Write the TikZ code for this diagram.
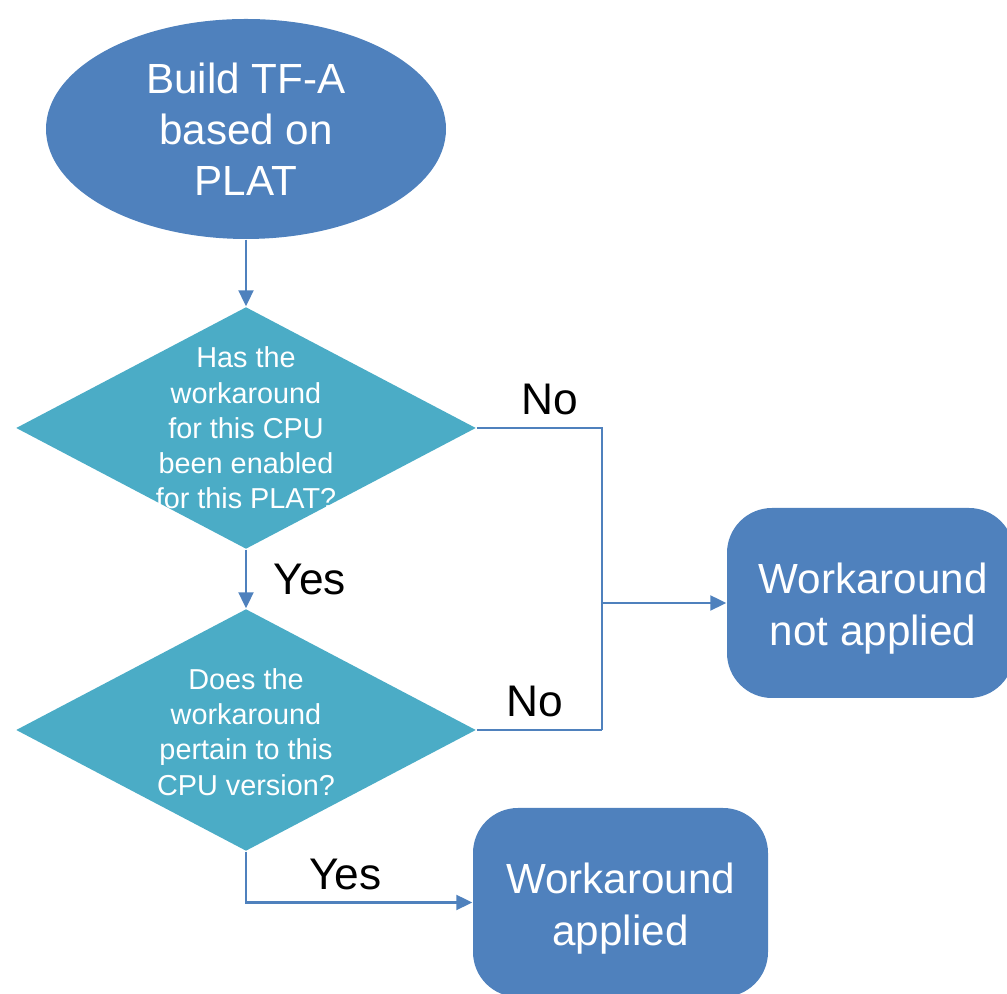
\documentclass[tikz,border=0pt]{standalone}
\usepackage{fontspec}
\setmainfont{Liberation Sans}
\usetikzlibrary{shapes.geometric,arrows.meta,positioning}
\definecolor{boxblue}{HTML}{4F81BD}
\definecolor{diamaqua}{HTML}{4BACC6}
\begin{document}
\begin{tikzpicture}[
	flow/.style={draw=boxblue, line width=0.6pt},
	flowarrow/.style={flow, -{Triangle[length=0.16cm,width=0.15cm]}},
	startbox/.style={ellipse, fill=boxblue, inner sep=0pt, minimum width=4cm, minimum height=2.2cm,
		text=white, align=center, font=\fontsize{12}{14.5}\selectfont},
	decision/.style={diamond, fill=diamaqua, inner sep=0pt, minimum width=4.6cm, minimum height=2.42cm},
	decisiontext/.style={text=white, align=center, font=\fontsize{8.2}{10}\selectfont},
	endbox/.style={rectangle, rounded corners=0.45cm, fill=boxblue, inner sep=0pt},
	endtext/.style={text=white, align=center, font=\fontsize{12}{14.8}\selectfont},
	answer/.style={font=\fontsize{12.6}{15}\selectfont}
	]
	%Draw frame
	\useasboundingbox (0,0) rectangle (10.07,-9.94);
	\begin{scope}
	\clip (0,0) rectangle (10.07,-9.94);

	%Draw nodes
	\node[startbox] (build) at (2.46,-1.29) {Build TF-A\\based on\\PLAT};
	\node[decision] (enabled) at (2.46,-4.28) {};
	\node[decisiontext] (enabledtext) at (enabled.center) {Has the\\workaround\\for this CPU\\been enabled\\for this PLAT?};
	\node[decision] (pertain) at (2.46,-7.30) {};
	\node[decisiontext] (pertaintext) at (2.46,-7.32) {Does the\\workaround\\pertain to this\\CPU version?};
	\node[endbox, minimum width=2.87cm, minimum height=1.90cm] (notapplied) at (8.705,-6.03) {};
	\node[endtext] (notappliedtext) at (8.73,-6.09) {Workaround\\not applied};
	\node[endbox, minimum width=2.95cm, minimum height=1.89cm] (applied) at (6.205,-9.025) {};
	\node[endtext] (appliedtext) at (6.205,-9.09) {Workaround\\applied};

	%Draw junction
	\coordinate (notop) at (6.02,-4.28);
	\coordinate (nobot) at (6.02,-7.30);
	\coordinate (nomid) at (notapplied.west -| notop);

	%Draw connectors
	\draw[flowarrow] (build.south) -- (enabled.north);
	\draw[flowarrow] (enabled.south) -- node[answer, right=0.15cm]{Yes} (pertain.north);
	\draw[flow] (enabled.east) -- node[answer, above, pos=0.58]{No} (notop) -- (nobot);
	\draw[flow] (pertain.east) -- node[answer, above, pos=0.46]{No} (nobot);
	\draw[flowarrow] (nomid) -- (notapplied.west);
	\draw[flowarrow] (pertain.south) |- node[answer, above, pos=0.72]{Yes} (applied.west);
	\end{scope}
\end{tikzpicture}
\end{document}
